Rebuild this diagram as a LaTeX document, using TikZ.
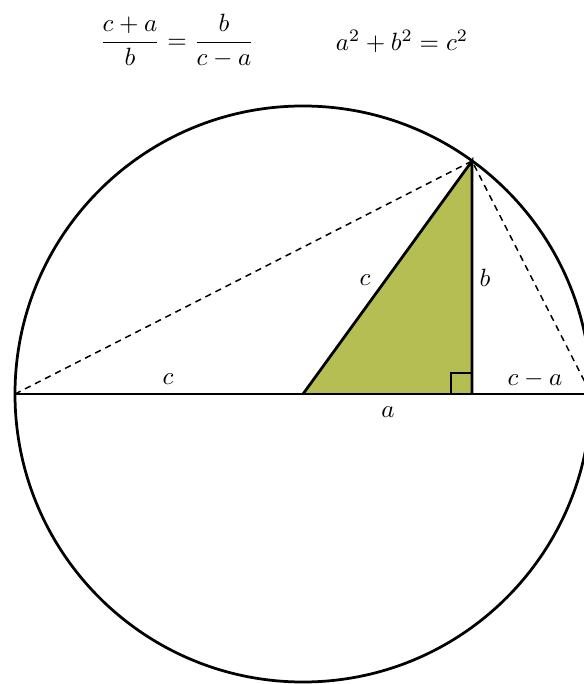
\documentclass[tikz,border=0pt]{standalone}
\usepackage{amsmath}
\usetikzlibrary{calc}
\definecolor{leaf}{RGB}{181,190,82}

\begin{document}
\begin{tikzpicture}[x=0.4pt, y=-0.4pt,
  edge/.style={line width=1.1pt},
  chord/.style={line width=0.6pt, dash pattern=on 2.5pt off 2pt},
  lbl/.style={inner sep=1pt}]
  \useasboundingbox (0,0) rectangle (584,684);
  % points on the diameter
  \coordinate (O) at (303,394);
  \coordinate (L) at (15,394);
  \coordinate (R) at (591,394);
  \coordinate (F) at (472,394);
  \coordinate (T) at (472,161);
  \fill[leaf] (O) -- (F) -- (T) -- cycle;
  \draw[edge] (O) circle[radius=288];
  \draw[edge] (L) -- (R);
  \draw[edge] (O) -- (T) -- (F);
  \draw[line width=0.9pt] ($(F)+(-21,0)$) -- ++(0,-21) -- ++(21,0);
  \draw[chord] (L) -- (T) -- (R);
  % labels
  \node[lbl] (cl) at (168,379) {$c$};
  \node[lbl] (ch) at (365,280) {$c$};
  \node[lbl] (bl) at (485,278) {$b$};
  \node[lbl] (cma) at (535,379) {$c-a$};
  \node[lbl] (al) at (388,412) {$a$};
  % equations
  \node (ratio) at (177,41) {$\dfrac{c+a}{b}=\dfrac{b}{c-a}$};
  \node[anchor=base] (pyth) at (402,51) {$a^2+b^2=c^2$};
\end{tikzpicture}
\end{document}
